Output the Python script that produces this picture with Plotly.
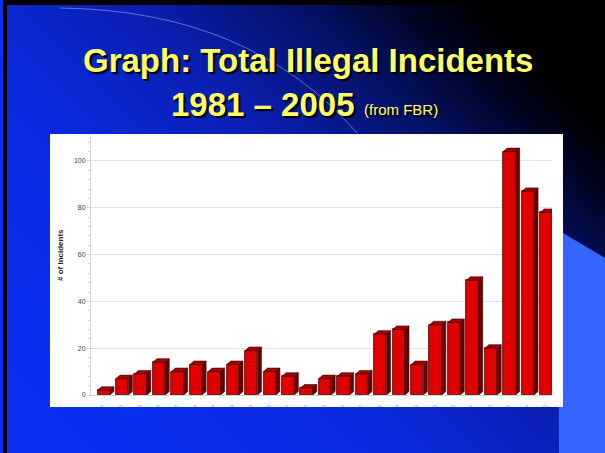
import base64
import plotly.graph_objects as go

# ---- data ----
years = [str(y) for y in range(1981, 2006)]
incidents = [2, 7, 9, 14, 10, 13, 10, 13, 19, 10, 8, 3, 7, 8, 9, 26, 28, 13, 30, 31, 49, 20, 104, 87, 78]
y_ticks = [0, 20, 40, 60, 80, 100]

title_line1 = "Graph: Total Illegal Incidents"
title_line2 = "1981 \u2013 2005"
title_note = "(from FBR)"
y_title = "# of Incidents"

# ---- geometry (pixels) ----
W, H = 605, 453
PL, PR, PT, PB = 91, 552, 135, 395  # plot area
pw, ph = PR - PL, PB - PT


def px(x):
    return (x - PL) / pw


def py(y):
    return (PB - y) / ph


idx = list(range(len(years)))
bw = 0.667   # front face width (category units)
dx = 0.22    # depth offset in x
dy = 1.5     # depth offset in y

# 3D side and top faces derived from data values
side_x, side_y, top_x, top_y = [], [], [], []
for i, v in zip(idx, incidents):
    r = i + bw / 2
    l = i - bw / 2
    side_x += [r, r + dx, r + dx, r, r, None]
    side_y += [0, dy, v + dy, v, 0, None]
    top_x += [l, l + dx, r + dx, r, l, None]
    top_y += [v, v + dy, v + dy, v, v, None]

fig = go.Figure()
fig.add_trace(go.Scatter(x=side_x, y=side_y, mode="lines", fill="toself",
                         fillcolor="#6a0000", line=dict(color="#3a0000", width=0.6),
                         hoverinfo="skip", showlegend=False))
fig.add_trace(go.Scatter(x=top_x, y=top_y, mode="lines", fill="toself",
                         fillcolor="#a30000", line=dict(color="#3a0000", width=0.6),
                         hoverinfo="skip", showlegend=False))
fig.add_trace(go.Bar(x=idx, y=incidents, width=bw,
                     marker=dict(color="#e00000", line=dict(color="#4a0000", width=0.8)),
                     showlegend=False, hovertext=years))

# ---- background slide (decorative) ----
svg = f'''<svg xmlns="http://www.w3.org/2000/svg" width="{W}" height="{H}" viewBox="0 0 {W} {H}">
<defs>
<linearGradient id="g" x1="0.05" y1="0.9" x2="0.95" y2="0.2">
<stop offset="0" stop-color="#0a30f4"/>
<stop offset="0.35" stop-color="#0a2ae0"/>
<stop offset="0.6" stop-color="#0a1fb0"/>
<stop offset="0.8" stop-color="#041060"/>
<stop offset="0.93" stop-color="#000318"/>
<stop offset="1" stop-color="#000000"/>
</linearGradient>
<mask id="m"><rect width="{W}" height="{H}" fill="white"/><rect x="50" y="134" width="513" height="273" fill="black"/></mask>
</defs>
<g mask="url(#m)">
<rect width="{W}" height="{H}" fill="#000"/>
<rect x="0" y="0" width="3" height="{H}" fill="#0a30f4"/>
<rect x="7" y="5" width="{W-7}" height="{H-5}" fill="url(#g)"/>
<path d="M 563 233 L 605 258 L 605 453 L 559 453 Q 558 340 563 233 Z" fill="#3366ff"/>
<path d="M 60 8 Q 250 10 357 133" stroke="#9fb4ff" stroke-opacity="0.55" fill="none" stroke-width="1"/>
</g>
</svg>'''
src = "data:image/svg+xml;base64," + base64.b64encode(svg.encode()).decode()

fig.add_layout_image(dict(source=src, xref="paper", yref="paper",
                          x=px(0), y=py(0), sizex=W / pw, sizey=H / ph,
                          xanchor="left", yanchor="top", sizing="stretch",
                          layer="above"))

tfont = dict(family="Arial, Liberation Sans, sans-serif", color="#ffff66",
             shadow="2px 2px 1px #000000")
fig.add_annotation(text=f"<b>{title_line1}</b>", xref="paper", yref="paper",
                   x=px(308), y=py(61), xanchor="center", yanchor="middle",
                   showarrow=False, font=dict(size=33, **tfont))
fig.add_annotation(text=f"<b>{title_line2}</b>", xref="paper", yref="paper",
                   x=px(262.5), y=py(104), xanchor="center", yanchor="middle",
                   showarrow=False, font=dict(size=33, **tfont))
fig.add_annotation(text=title_note, xref="paper", yref="paper",
                   x=px(362), y=py(110), xanchor="left", yanchor="middle",
                   showarrow=False, font=dict(size=15, **tfont))
fig.add_annotation(text=f"<b>{y_title}</b>", xref="paper", yref="paper",
                   x=px(60), y=py(255), xanchor="center", yanchor="middle",
                   textangle=-90, showarrow=False,
                   font=dict(family="Arial, Liberation Sans, sans-serif", size=8, color="#222"))

fig.update_layout(
    width=W, height=H,
    margin=dict(l=PL, r=W - PR, t=PT, b=H - PB),
    paper_bgcolor="white", plot_bgcolor="white",
    bargap=0,
    xaxis=dict(range=[-0.69, 24.31], tickvals=idx, ticktext=years, tickangle=-45,
               showgrid=False, zeroline=False, showline=True, linecolor="#d4d4d4",
               ticks="", ticklabelstandoff=4,
               tickfont=dict(family="Arial, Liberation Sans, sans-serif", size=7, color="#aaa")),
    yaxis=dict(range=[0, 111.1], tickvals=y_ticks, showgrid=True, gridcolor="#e3e3e3",
               gridwidth=1, zeroline=False, showline=True, linecolor="#d4d4d4",
               ticks="outside", ticklen=3, tickcolor="#cfcfcf",
               tickfont=dict(family="Arial, Liberation Sans, sans-serif", size=7, color="#444"),
               minor=dict(dtick=4, tick0=0, ticks="outside", ticklen=2, tickcolor="#d6d6d6",
                          showgrid=False)),
)

fig.write_html("out.html", config={"displayModeBar": False},
               post_script="document.body.style.margin='0px';document.body.style.overflow='hidden';")
